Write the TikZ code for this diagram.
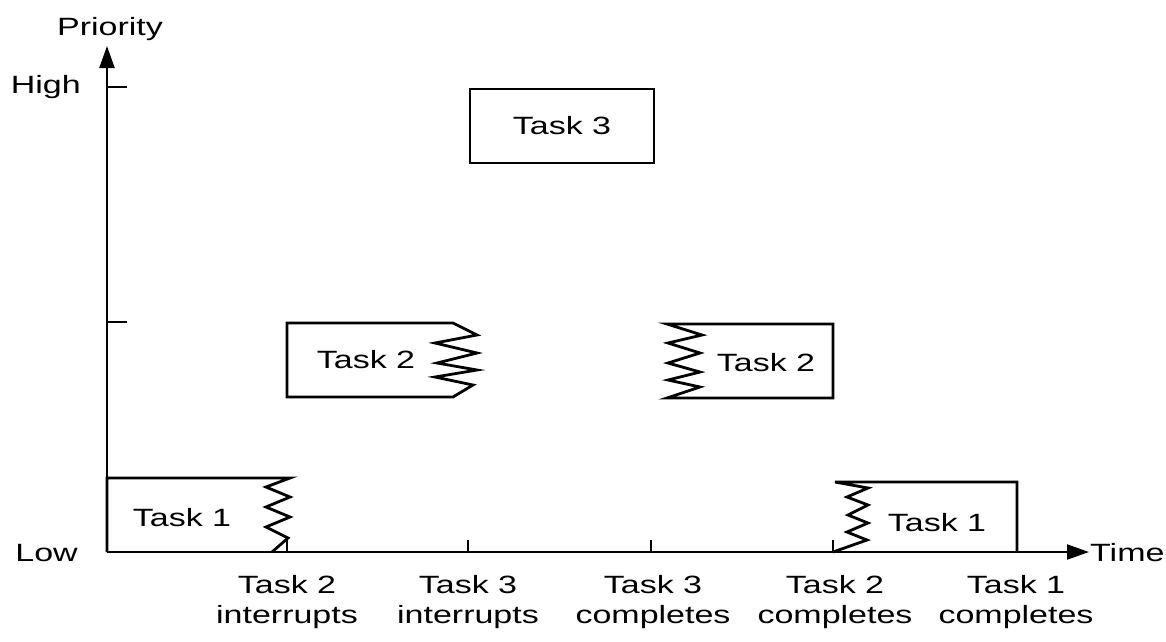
\documentclass[tikz,border=0pt]{standalone}
\usepackage{fontspec}
\setmainfont{Liberation Sans}[FakeStretch=1.36]
\usetikzlibrary{arrows.meta}
\begin{document}
\begin{tikzpicture}[x=1pt,y=-1pt,
  lbl/.style={font=\fontsize{25}{30}\selectfont, inner sep=0pt, align=center},
  box/.style={line width=2.8pt, line join=miter},
  axis/.style={line width=2.2pt},
  tickmark/.style={line width=2pt},
  tip/.style={-{Triangle[length=22pt,width=15pt]}}]
\useasboundingbox (0,0) rectangle (1166,641);
% axes
\coordinate (O) at (107,552);
\coordinate (Ytop) at (107,46);
\coordinate (Xend) at (1089,552);
\draw[axis,tip] (O) -- (Ytop);
\draw[axis,tip] (O) -- (Xend);
% y ticks
\coordinate (hi) at (107,87);
\coordinate (mid) at (107,322);
\draw[tickmark] (hi) -- ++(20,0);
\draw[tickmark] (mid) -- ++(20,0);
% x ticks
\foreach \x/\n in {287/a,468/b,651/c,833/d}{
  \coordinate (tk\n) at (\x,552);
  \draw[tickmark] (tk\n) -- ++(0,-12);
}
% Task 3 box
\draw[box] (470,89) rectangle (654,163);
% Task 2 left box
\draw[box] (453,323) -- (287,323) -- (287,397) -- (453,397) -- (473,385) -- (435,377)
  -- (477,370) -- (437,363) -- (477,353) -- (435,343) -- (477,335) -- cycle;
% Task 2 right box
\draw[box] (667,324) -- (833,324) -- (833,398) -- (667,398) -- (700,387) -- (668,380)
  -- (700,372) -- (668,363) -- (700,353) -- (668,343) -- (702,335) -- cycle;
% Task 1 left box
\draw[box] (107,552) -- (107,478) -- (290,478) -- (266,487) -- (290,497) -- (266,507)
  -- (290,517) -- (266,527) -- (288,538) -- (272,552);
% Task 1 right box
\draw[box] (833,552) -- (867,540) -- (847,532) -- (868,523) -- (848,515) -- (868,505)
  -- (847,497) -- (868,488) -- (835,482) -- (1017,482) -- (1017,552);
% box labels
\node[lbl] (t3) at (562,126) {Task 3};
\node[lbl] (t2a) at (366,360) {Task 2};
\node[lbl] (t2b) at (766,363) {Task 2};
\node[lbl] (t1a) at (182,518) {Task 1};
\node[lbl] (t1b) at (937,523) {Task 1};
% axis labels
\node[lbl, anchor=base] (prio) at (110,35) {Priority};
\node[lbl, anchor=base east] (high) at (81,93) {High};
\node[lbl, anchor=base east] (low) at (78,561) {Low};
\node[lbl, anchor=west] (time) at (1090,553) {Time};
% event labels
\node[lbl, anchor=north] (e1) at (287,575) {Task 2\\interrupts};
\node[lbl, anchor=north] (e2) at (468,575) {Task 3\\interrupts};
\node[lbl, anchor=north] (e3) at (653,575) {Task 3\\completes};
\node[lbl, anchor=north] (e4) at (835,575) {Task 2\\completes};
\node[lbl, anchor=north] (e5) at (1016,575) {Task 1\\completes};
\end{tikzpicture}
\end{document}
